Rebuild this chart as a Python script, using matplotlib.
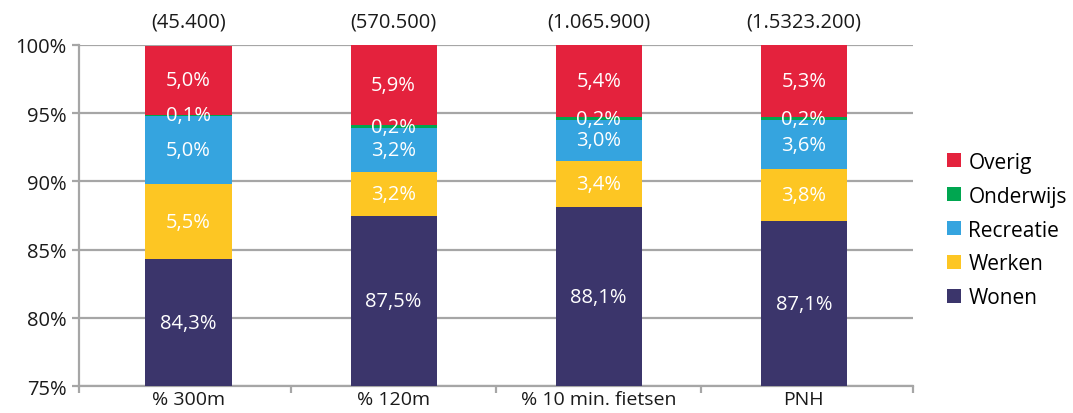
import matplotlib
matplotlib.use("Agg")
import matplotlib.pyplot as plt
import numpy as np

plt.rcParams['font.family'] = ['Open Sans', 'DejaVu Sans']

categories = ["% 300m", "% 120m", "% 10 min. fietsen", "PNH"]
totals = ["(45.400)", "(570.500)", "(1.065.900)", "(1.5323.200)"]
series_names = ["Wonen", "Werken", "Recreatie", "Onderwijs", "Overig"]
wonen = [84.3, 87.5, 88.1, 87.1]
werken = [5.5, 3.2, 3.4, 3.8]
recreatie = [5.0, 3.2, 3.0, 3.6]
onderwijs = [0.1, 0.2, 0.2, 0.2]
overig = [5.0, 5.9, 5.4, 5.3]
colors = ["#3B356B", "#FDC623", "#35A4DF", "#00A650", "#E4223D"]

ymin, ymax = 75, 100
fs = 14.5
txt = "#1a1a1a"
grey = "#a6a6a6"

fig = plt.figure(figsize=(10.73, 4.14), dpi=100)
ax = fig.add_axes([0.0736, 0.065, 0.777, 0.824])

x = np.arange(len(categories))
bottom = np.zeros(len(categories))
handles = []
for name, vals, col in zip(series_names, [wonen, werken, recreatie, onderwijs, overig], colors):
    vals = np.array(vals)
    h = ax.bar(x, vals, bottom=bottom, width=0.42, color=col, label=name, zorder=3)
    handles.append(h)
    for xi, b, v in zip(x, bottom, vals):
        lo = max(b, ymin)
        hi = min(b + v, ymax)
        yc = (lo + hi) / 2
        ax.text(xi, yc, f"{v:.1f}%".replace(".", ","), ha="center", va="center",
                color="white", fontsize=fs, zorder=4)
    bottom += vals

for xi, t in zip(x, totals):
    ax.annotate(t, (xi, ymax), xytext=(0, 17), textcoords="offset points",
                ha="center", va="center", fontsize=fs, color=txt)

x0, x1 = -0.534, len(categories) - 0.469
ax.set_ylim(ymin, ymax)
ax.set_xlim(x0, x1)
ax.set_yticks(np.arange(75, 101, 5))
ax.set_yticklabels([f"{v}%" for v in range(75, 101, 5)])
ax.yaxis.grid(True, color=grey, linewidth=1.6, zorder=0)
ax.set_axisbelow(True)

ax.set_xticks(x)
ax.set_xticklabels(categories)
ax.set_xticks(np.concatenate([[x0], np.arange(0.5, len(categories) - 1, 1), [x1]]), minor=True)
ax.tick_params(axis="x", which="major", length=0, pad=3, labelsize=14, labelcolor=txt)
ax.tick_params(axis="x", which="minor", length=5, color=grey, width=1.6)
ax.tick_params(axis="y", length=5, color=grey, width=1.6, pad=4, labelsize=fs, labelcolor=txt)

for s in ["top", "right"]:
    ax.spines[s].set_visible(False)
for s in ["left", "bottom"]:
    ax.spines[s].set_color(grey)
    ax.spines[s].set_linewidth(1.6)

fig.legend(handles[::-1], series_names[::-1], loc="center left",
           bbox_to_anchor=(0.8826, 0.442), frameon=False, fontsize=15,
           handlelength=0.67, handleheight=0.67, handletextpad=0.35,
           labelspacing=0.62, borderpad=0, borderaxespad=0)

fig.savefig("out.png", dpi=100)
